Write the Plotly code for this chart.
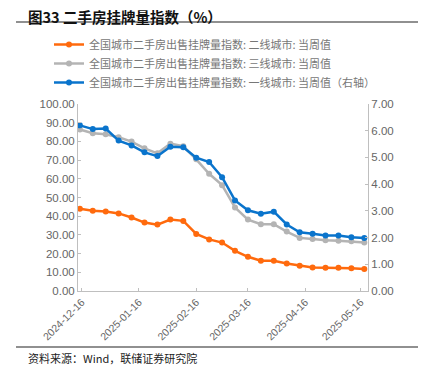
import plotly.graph_objects as go
import pandas as pd

dates = pd.date_range("2024-12-15", periods=23, freq="7D").strftime("%Y-%m-%d").tolist()
tier2 = [44.0, 42.9, 42.5, 41.5, 39.3, 36.6, 35.5, 38.2, 37.5, 30.5, 27.6, 25.9,
         21.5, 18.3, 16.2, 16.2, 14.7, 13.5, 12.6, 12.4, 12.4, 12.2, 11.8]
tier3 = [86.4, 84.4, 83.8, 82.2, 79.9, 76.3, 73.6, 78.8, 77.4, 70.4, 62.7, 56.6,
         44.7, 38.2, 35.7, 35.7, 31.8, 28.4, 27.8, 27.1, 26.9, 26.6, 25.9]
tier1 = [6.20, 6.06, 6.08, 5.63, 5.45, 5.19, 5.05, 5.40, 5.38, 4.99, 4.83, 4.26,
         3.39, 3.02, 2.89, 2.97, 2.49, 2.20, 2.14, 2.08, 2.08, 2.01, 1.98]
tick_dates = ["2024-12-16", "2025-01-16", "2025-02-16", "2025-03-16", "2025-04-16", "2025-05-16"]
names = ["全国城市二手房出售挂牌量指数: 二线城市: 当周值",
         "全国城市二手房出售挂牌量指数: 三线城市: 当周值",
         "全国城市二手房出售挂牌量指数: 一线城市: 当周值（右轴）"]

ORANGE = "#FF6A0D"
GRAY = "#B4B4B4"
BLUE = "#0A74CC"
FONT = "Noto Sans CJK SC"

# figure is 422x367 because the page body adds an 8px margin; layout in figure pixels
W, H = 422, 367
PLOT_L, PLOT_R, PLOT_T, PLOT_B = 70, 360, 96, 283   # plot box in figure pixels

fig = go.Figure()
fig.add_trace(go.Scatter(x=dates, y=tier2, name=names[0], mode="lines+markers",
                         line=dict(color=ORANGE, width=2.5), marker=dict(size=6, color=ORANGE)))
fig.add_trace(go.Scatter(x=dates, y=tier3, name=names[1], mode="lines+markers",
                         line=dict(color=GRAY, width=2.5), marker=dict(size=6, color=GRAY)))
fig.add_trace(go.Scatter(x=dates, y=tier1, name=names[2], mode="lines+markers", yaxis="y2",
                         line=dict(color=BLUE, width=2.5), marker=dict(size=6, color=BLUE)))

# decorative horizontal rules (under title, above source) on a hidden full-figure pixel axis pair
fig.add_trace(go.Scatter(x=[8, 410, None, 8, 410], y=[14, 14, None, 339, 339],
                         xaxis="x3", yaxis="y3", mode="lines", showlegend=False,
                         hoverinfo="skip", line=dict(color="#222222", width=1.1)))

axis_common = dict(showgrid=False, zeroline=False, showline=True, linecolor="#BFBFBF",
                   linewidth=1, ticks="inside", ticklen=3, tickcolor="#BFBFBF", automargin=False,
                   tickfont=dict(family="Liberation Sans, Arial", size=11.5, color="#666666"))

xdom = [PLOT_L / W, PLOT_R / W]
ydom = [1 - PLOT_B / H, 1 - PLOT_T / H]

fig.update_layout(
    width=W, height=H,
    margin=dict(l=0, r=0, t=0, b=0),
    paper_bgcolor="white", plot_bgcolor="rgba(0,0,0,0)",
    font=dict(family=FONT),
    showlegend=True,
    legend=dict(x=41 / W, y=1 - 22 / H, xanchor="left", yanchor="top",
                font=dict(family=FONT, size=11, color="#777777"),
                tracegroupgap=0, itemwidth=30, bgcolor="rgba(0,0,0,0)"),
    xaxis=dict(type="date", domain=xdom, range=["2024-12-14", "2025-05-20"], tickvals=tick_dates,
               ticktext=tick_dates, tickangle=-45, anchor="y",
               **{**axis_common, "tickfont": dict(family="Liberation Sans, Arial", size=10.5, color="#666666")}),
    yaxis=dict(domain=ydom, range=[0, 100], dtick=10, tickformat=".2f", anchor="x", **axis_common),
    yaxis2=dict(range=[0, 7], dtick=1, tickformat=".2f", overlaying="y", side="right", anchor="x",
                **axis_common),
    xaxis3=dict(domain=[0, 1], range=[0, W], visible=False, fixedrange=True, anchor="y3"),
    yaxis3=dict(domain=[0, 1], range=[H, 0], visible=False, fixedrange=True, anchor="x3"),
)

fig.add_annotation(text="<b>图33 二手房挂牌量指数（%）</b>", xref="paper", yref="paper",
                   x=18 / W, y=1 - 8.5 / H, xanchor="left", yanchor="middle", showarrow=False,
                   font=dict(family=FONT, size=14.5, color="#111111"))
fig.add_annotation(text="资料来源：Wind，联储证券研究院", xref="paper", yref="paper",
                   x=18 / W, y=1 - 349.5 / H, xanchor="left", yanchor="middle", showarrow=False,
                   font=dict(family=FONT, size=11, color="#222222"))

fig.write_html("out.html")
